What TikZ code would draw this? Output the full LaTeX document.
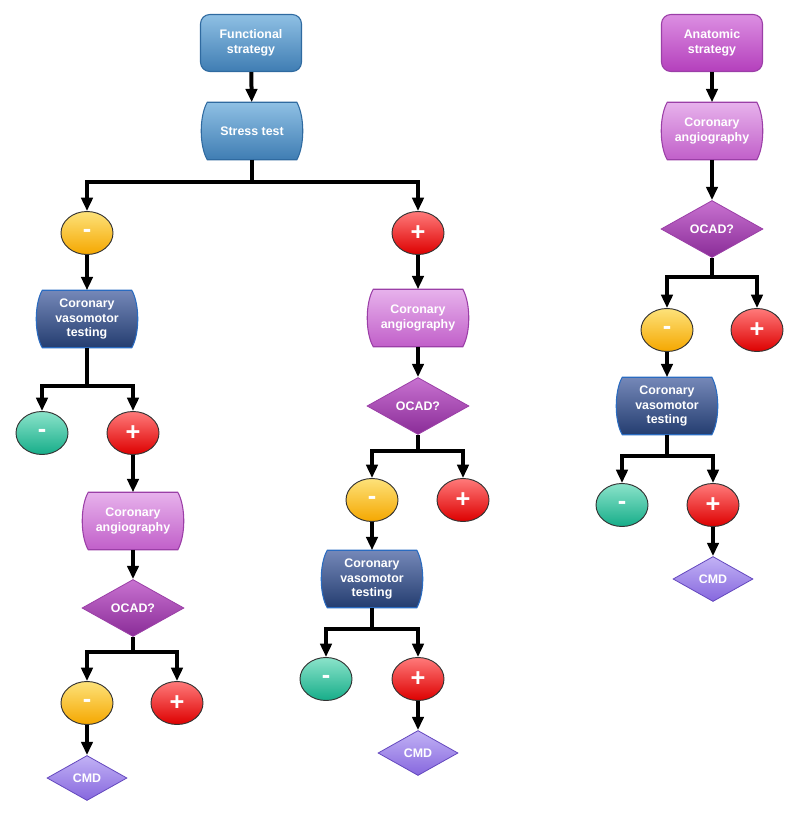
\documentclass[tikz,border=0pt]{standalone}
\usepackage{fontspec}
\setmainfont{Liberation Sans}
\usepackage{xcolor}
\usetikzlibrary{arrows.meta, positioning, shapes.geometric, backgrounds}

\definecolor{funcTop}{HTML}{8FC0E4}
\definecolor{funcBot}{HTML}{3F7DB3}
\definecolor{funcLine}{HTML}{2F6AA0}
\definecolor{vasoTop}{HTML}{7588B8}
\definecolor{vasoBot}{HTML}{243D70}
\definecolor{vasoLine}{HTML}{2A6BC0}
\definecolor{angioTop}{HTML}{E7B2EC}
\definecolor{angioBot}{HTML}{C15FC9}
\definecolor{angioLine}{HTML}{9B3FA7}
\definecolor{anatTop}{HTML}{DC8FE2}
\definecolor{anatBot}{HTML}{B43FBC}
\definecolor{ocadTop}{HTML}{C872D0}
\definecolor{ocadBot}{HTML}{8A2C98}
\definecolor{cmdTop}{HTML}{C2B2F5}
\definecolor{cmdBot}{HTML}{8667DE}
\definecolor{cmdLine}{HTML}{6448BE}
\definecolor{negTop}{HTML}{FDE27A}
\definecolor{negBot}{HTML}{F5A700}
\definecolor{posTop}{HTML}{FF7A7A}
\definecolor{posBot}{HTML}{DD0000}
\definecolor{nilTop}{HTML}{8BE3CA}
\definecolor{nilBot}{HTML}{16AD89}

\begin{document}
\begin{tikzpicture}[
    x=0.75pt, y=-0.75pt,
    txt/.style={font=\fontsize{9.3}{11.2}\selectfont\bfseries, text=white, align=center},
    box/.style={txt, rectangle, minimum width=66.75pt, minimum height=42.75pt, inner sep=1pt},
    startbox/.style={txt, rectangle, rounded corners=7pt, minimum width=75.75pt, minimum height=42.75pt, inner sep=1pt, draw, line width=0.8pt},
    funcbox/.style={startbox, top color=funcTop, bottom color=funcBot, draw=funcLine},
    anatbox/.style={startbox, top color=anatTop, bottom color=anatBot, draw=angioLine},
    stressfill/.style={top color=funcTop, bottom color=funcBot, draw=funcLine, line width=0.8pt},
    vasofill/.style={top color=vasoTop, bottom color=vasoBot, draw=vasoLine, line width=0.8pt},
    angiofill/.style={top color=angioTop, bottom color=angioBot, draw=angioLine, line width=0.8pt},
    ocadbox/.style={txt, diamond, aspect=1.8, minimum width=76.5pt, minimum height=42.75pt, inner sep=0pt, top color=ocadTop, bottom color=ocadBot, draw=angioLine, line width=0.6pt},
    cmdbox/.style={txt, diamond, aspect=1.8, minimum width=60pt, minimum height=33.75pt, inner sep=0pt, top color=cmdTop, bottom color=cmdBot, draw=cmdLine, line width=0.6pt},
    signbox/.style={ellipse, minimum width=39pt, minimum height=32.25pt, inner sep=0pt, text=white, font=\fontsize{19}{19}\selectfont\bfseries, draw=black!80, line width=0.7pt},
    negbox/.style={signbox, top color=negTop, bottom color=negBot},
    posbox/.style={signbox, top color=posTop, bottom color=posBot},
    nilbox/.style={signbox, top color=nilTop, bottom color=nilBot},
    arr/.style={-{Triangle[length=10pt, width=8.5pt]}, line width=3pt, line join=miter}
]
\useasboundingbox (0,0) rectangle (800,813);

% functional strategy
\node[funcbox] (funcstart) at (251,43) {Functional\\strategy};
\node[box] (stress) at (252,131) {Stress test};
\node[negbox] (fneg) at (87,233) {-};
\node[posbox] (fpos) at (418,233) {+};

% left branch
\node[box] (vaso1) at (87,319) {Coronary\\vasomotor\\testing};
\node[nilbox] (vneg1) at (42,433) {-};
\node[posbox] (vpos1) at (133,433) {+};
\node[box] (angio1) at (133,521) {Coronary\\angiography};
\node[ocadbox] (ocad1) at (133,608) {OCAD?};
\node[negbox] (oneg1) at (87,703) {-};
\node[posbox] (opos1) at (177,703) {+};
\node[cmdbox] (cmd1) at (87,778) {CMD};

% middle branch
\node[box] (angio2) at (418,318) {Coronary\\angiography};
\node[ocadbox] (ocad2) at (418,406) {OCAD?};
\node[negbox] (oneg2) at (372,500) {-};
\node[posbox] (opos2) at (463,500) {+};
\node[box] (vaso2) at (372,579) {Coronary\\vasomotor\\testing};
\node[nilbox] (vneg2) at (326,679) {-};
\node[posbox] (vpos2) at (418,679) {+};
\node[cmdbox] (cmd2) at (418,753) {CMD};

% anatomic strategy
\node[anatbox] (anatstart) at (712,43) {Anatomic\\strategy};
\node[box] (angio3) at (712,131) {Coronary\\angiography};
\node[ocadbox] (ocad3) at (712,229) {OCAD?};
\node[negbox] (oneg3) at (667,330) {-};
\node[posbox] (opos3) at (757,330) {+};
\node[box] (vaso3) at (667,406) {Coronary\\vasomotor\\testing};
\node[nilbox] (vneg3) at (622,505) {-};
\node[posbox] (vpos3) at (713,505) {+};
\node[cmdbox] (cmd3) at (713,579) {CMD};

% bulged outlines behind the box texts
\begin{scope}[on background layer]
\foreach \n/\s in {stress/stressfill, vaso1/vasofill, vaso2/vasofill, vaso3/vasofill,
                   angio1/angiofill, angio2/angiofill, angio3/angiofill}
  \path[\s] (\n.north west) -- (\n.north east)
     .. controls +(8,14) and +(8,-14) .. (\n.south east) -- (\n.south west)
     .. controls +(-8,-14) and +(-8,14) .. cycle;
\end{scope}

% straight arrows
\draw[arr] (funcstart) -- (stress);
\draw[arr] (fneg) -- (vaso1);
\draw[arr] (vpos1) -- (angio1);
\draw[arr] (angio1) -- (ocad1);
\draw[arr] (oneg1) -- (cmd1);
\draw[arr] (fpos) -- (angio2);
\draw[arr] (angio2) -- (ocad2);
\draw[arr] (oneg2) -- (vaso2);
\draw[arr] (vpos2) -- (cmd2);
\draw[arr] (anatstart) -- (angio3);
\draw[arr] (angio3) -- (ocad3);
\draw[arr] (oneg3) -- (vaso3);
\draw[arr] (vpos3) -- (cmd3);

% split arrows
\draw[arr] (stress.south) -- ++(0,22.5) -| (fneg);
\draw[arr] (stress.south) -- ++(0,22.5) -| (fpos);
\draw[arr] (vaso1.south) -- ++(0,38.5) -| (vneg1);
\draw[arr] (vaso1.south) -- ++(0,38.5) -| (vpos1);
\draw[arr] (ocad1.south) -- ++(0,15.5) -| (oneg1);
\draw[arr] (ocad1.south) -- ++(0,15.5) -| (opos1);
\draw[arr] (ocad2.south) -- ++(0,16.5) -| (oneg2);
\draw[arr] (ocad2.south) -- ++(0,16.5) -| (opos2);
\draw[arr] (vaso2.south) -- ++(0,21.5) -| (vneg2);
\draw[arr] (vaso2.south) -- ++(0,21.5) -| (vpos2);
\draw[arr] (ocad3.south) -- ++(0,19.5) -| (oneg3);
\draw[arr] (ocad3.south) -- ++(0,19.5) -| (opos3);
\draw[arr] (vaso3.south) -- ++(0,21.5) -| (vneg3);
\draw[arr] (vaso3.south) -- ++(0,21.5) -| (vpos3);
\end{tikzpicture}
\end{document}
